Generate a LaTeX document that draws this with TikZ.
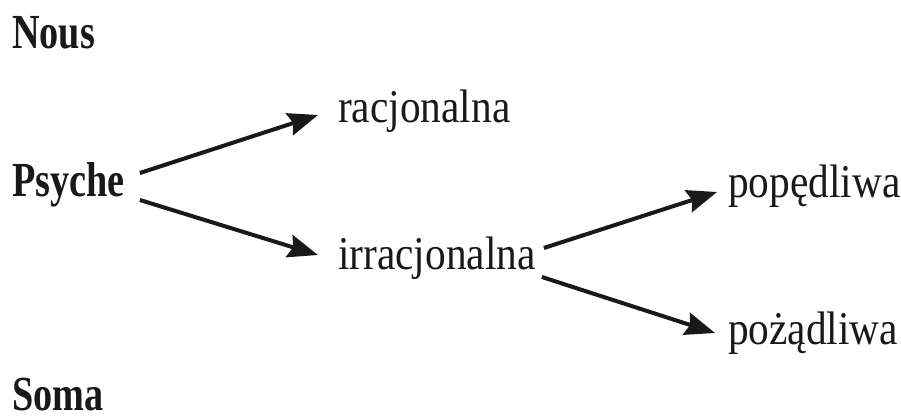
\documentclass[tikz,border=0pt]{standalone}
\usepackage{fontspec}
\setmainfont{Liberation Serif}
\newfontfamily\regf[FakeStretch=0.88]{Liberation Serif}
\newfontfamily\boldf[FakeStretch=0.78]{Liberation Serif}
\usetikzlibrary{arrows.meta}
\tikzset{
  head/.style={font=\boldf\bfseries\fontsize{49}{50}\selectfont, anchor=base west, inner sep=0pt, text=black!90},
  part/.style={font=\regf\fontsize{47}{48}\selectfont, anchor=base west, inner sep=0pt, text=black!90},
  arr/.style={line width=4pt, draw=black!90, -{Stealth[length=30pt,width=23pt,inset=4pt]}}
}
\begin{document}
\begin{tikzpicture}[x=1pt,y=-1pt]
\useasboundingbox (0,0) rectangle (901,419);
\node[head] (nous) at (12,49) {Nous};
\node[head] (psyche) at (12,197) {Psyche};
\node[head] (soma) at (12,410) {Soma};
\node[part] (rac) at (338,123) {racjonalna};
\node[part] (irr) at (338,270) {irracjonalna};
\node[part] (pop) at (728,198) {popędliwa};
\node[part] (poz) at (728,344) {pożądliwa};
\draw[arr] ([xshift=15pt,yshift=24pt]psyche.base east) -- ([xshift=-20pt,yshift=8pt]rac.base west);
\draw[arr] ([xshift=15pt,yshift=-3pt]psyche.base east) -- ([xshift=-20pt,yshift=15pt]irr.base west);
\draw[arr] ([xshift=8pt,yshift=22pt]irr.base east) -- ([xshift=-11pt,yshift=6pt]pop.base west);
\draw[arr] ([xshift=6pt,yshift=-7pt]irr.base east) -- ([xshift=-13pt,yshift=11pt]poz.base west);
\end{tikzpicture}
\end{document}
